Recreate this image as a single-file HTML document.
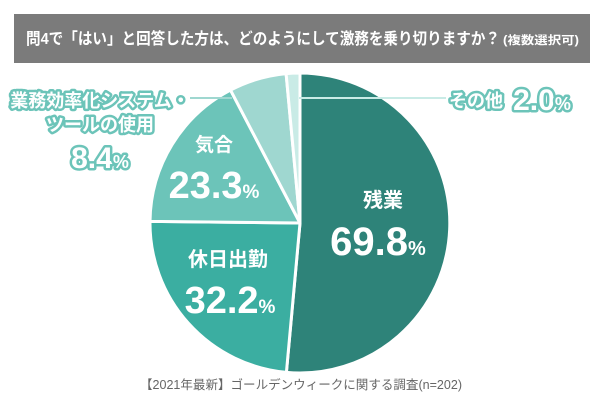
<!DOCTYPE html>
<html><head><meta charset="utf-8"><style>
html,body{margin:0;padding:0;background:#fff}
body{width:600px;height:400px;overflow:hidden;position:relative;font-family:"Liberation Sans","Noto Sans CJK JP",sans-serif}
</style></head><body>
<svg width="600" height="400" viewBox="0 0 600 400" xmlns="http://www.w3.org/2000/svg" style="position:absolute;left:0;top:0">
<rect x="14" y="14" width="576" height="49" fill="#7b7b7b"/>
<text x="26" y="44" fill="#fff" font-size="16" font-weight="bold" textLength="474" lengthAdjust="spacingAndGlyphs" font-family="Liberation Sans, Noto Sans CJK JP, sans-serif">問4で「はい」と回答した方は、どのようにして激務を乗り切りますか？</text>
<text x="503" y="44" fill="#fff" font-size="11.5" font-weight="bold" textLength="76" lengthAdjust="spacingAndGlyphs" font-family="Liberation Sans, Noto Sans CJK JP, sans-serif">(複数選択可)</text>
<g stroke="#fff" stroke-width="3" stroke-linejoin="round">
<path d="M300,223 L300,73 A150,150 0 1,1 286.4,372.4 Z" fill="#2e8379"/>
<path d="M300,223 L286.4,372.4 A150,150 0 0,1 150,221.4 Z" fill="#3baea1"/>
<path d="M300,223 L150,221.4 A150,150 0 0,1 230.5,90.1 Z" fill="#6cc4b9"/>
<path d="M300,223 L230.5,90.1 A150,150 0 0,1 286.1,73.6 Z" fill="#9fd7d0"/>
<path d="M300,223 L286.1,73.6 A150,150 0 0,1 300,73 Z" fill="#c9ebe6"/>
</g>
<line x1="190" y1="98" x2="232" y2="98" stroke="#9fd7d0" stroke-width="2"/>
<line x1="299" y1="98" x2="446" y2="98" stroke="#c9ebe6" stroke-width="2"/>
<g font-family="Liberation Sans, Noto Sans CJK JP, sans-serif" font-weight="bold" fill="#fff" text-anchor="middle">
<g stroke="#6cc4b9" stroke-width="5" paint-order="stroke" stroke-linejoin="round">
<text x="100" y="107" font-size="18">業務効率化システム・</text>
<text x="100" y="131" font-size="18">ツールの使用</text>
<text x="100" y="168" font-size="30">8.4<tspan font-size="18">%</tspan></text>
<text x="476" y="107" font-size="18">その他</text>
<text x="542" y="110" font-size="30">2.0<tspan font-size="18">%</tspan></text>
</g>
<text x="383" y="207" font-size="20">残業</text>
<text x="378" y="255" font-size="40">69.8<tspan font-size="20">%</tspan></text>
<text x="214" y="151" font-size="19">気合</text>
<text x="214" y="198" font-size="38">23.3<tspan font-size="19">%</tspan></text>
<text x="228" y="266" font-size="20">休日出勤</text>
<g stroke="#3baea1" stroke-width="3" paint-order="stroke"><text x="230" y="313" font-size="38">32.2<tspan font-size="19">%</tspan></text></g>
</g>
<text x="140" y="389" fill="#666" font-size="12.5" textLength="322" lengthAdjust="spacingAndGlyphs" font-family="Liberation Sans, Noto Sans CJK JP, sans-serif">【2021年最新】ゴールデンウィークに関する調査(n=202)</text>
</svg>
</body></html>
